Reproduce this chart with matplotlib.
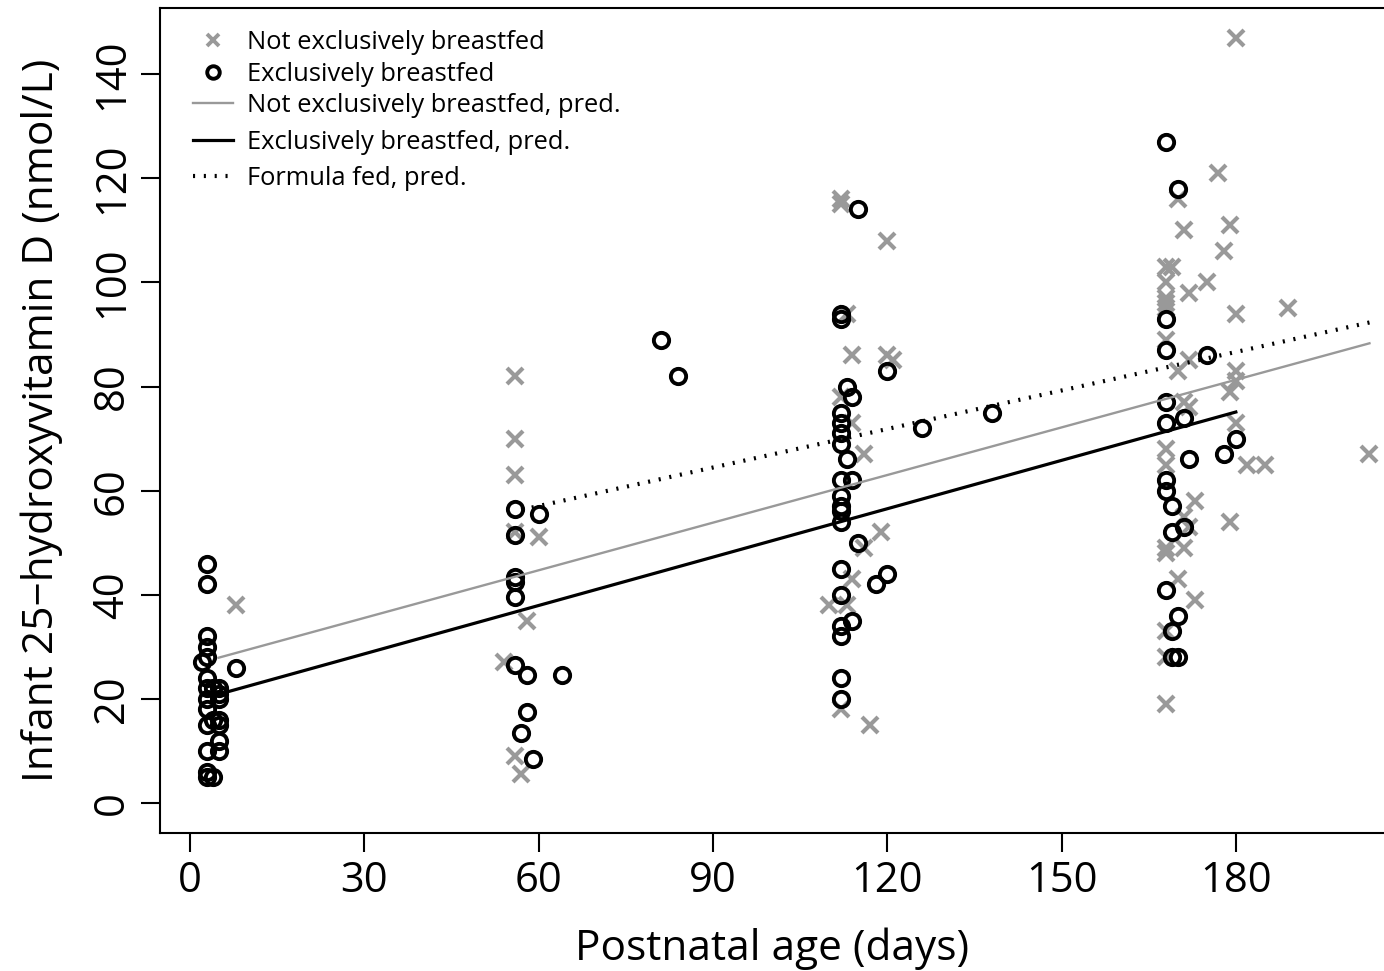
import numpy as np
import matplotlib
matplotlib.use("Agg")
import matplotlib.pyplot as plt
from matplotlib.lines import Line2D

plt.rcParams["font.family"] = ["Open Sans", "DejaVu Sans"]

# not exclusively breastfed (grey crosses): day, 25(OH)D
NEB_DAY = [8,
           56, 56, 56, 56, 60, 58, 54, 56, 57,
           112, 112, 120, 113, 114, 120, 121, 112, 114, 116, 119, 116, 114,
           113, 110, 112, 117,
           180, 177, 170, 171, 179, 178, 168, 169, 168, 175, 172, 168, 168,
           168, 180, 189, 168, 172, 170, 180, 180, 179, 171, 172, 180, 168,
           168, 182, 185, 203, 173, 179, 171, 172, 168, 168, 171, 170, 173,
           168, 168, 168]
NEB_VAL = [38,
           82, 70, 63, 52, 51, 35, 27, 9, 5.5,
           116, 115, 108, 94, 86, 86, 85, 78, 73, 67, 52, 49, 43,
           38, 38, 18, 15,
           147, 121, 116, 110, 111, 106, 103, 103, 100, 100, 98, 97, 96,
           95, 94, 95, 89, 85, 83, 83, 81, 79, 77, 76, 73, 68,
           65, 65, 65, 67, 58, 54, 55, 53, 49, 48, 49, 43, 39,
           33, 28, 19]

# exclusively breastfed (open circles)
EB_DAY = [3, 3, 3, 3, 2, 3, 8, 3, 3, 4, 5, 5, 3, 5, 3, 4, 5, 3, 5, 5, 3, 5, 3, 3, 4,
          56, 60, 56, 56, 56, 56, 56, 58, 64, 58, 57, 59, 81, 84,
          115, 112, 112, 120, 113, 114, 112, 112, 112, 112, 113, 126, 138,
          112, 114, 112, 112, 112, 112, 115, 112, 120, 118, 112, 114, 112,
          112, 112, 112,
          168, 170, 168, 168, 175, 168, 171, 168, 180, 178, 172, 168, 168,
          169, 171, 169, 168, 170, 169, 169, 170]
EB_VAL = [46, 42, 32, 30, 27, 28, 26, 24, 22, 22, 22, 21, 20, 20, 18, 16, 16, 15, 15,
          12, 10, 10, 6, 5, 5,
          56.5, 55.5, 51.5, 43.5, 42.5, 39.5, 26.5, 24.5, 24.5, 17.5, 13.5, 8.5, 89, 82,
          114, 94, 93, 83, 80, 78, 75, 73, 71, 69, 66, 72, 75,
          62, 62, 59, 57, 56, 54, 50, 45, 44, 42, 40, 35, 34,
          32, 24, 20,
          127, 118, 93, 87, 86, 77, 74, 73, 70, 67, 66, 62, 60,
          57, 53, 52, 41, 36, 33, 28, 28]

# model predictions
PRED_NEB_DAY = [4.9, 203]
PRED_NEB = [27.9, 88.3]
PRED_EB_DAY = [6.6, 180]
PRED_EB = [21.4, 75.1]
PRED_FF_DAY = [57, 203]
PRED_FF = [56.3, 92.3]

GREY = "#999999"
DOTTED = (0, (0.5, 2.1))

W, H = 1384, 971
fig = plt.figure(figsize=(W / 100, H / 100), dpi=100)
ax = fig.add_axes([160 / W, 138 / H, 1 - 160 / W, (833 - 8) / H])

ax.plot(NEB_DAY, NEB_VAL, ls="none", marker="x", ms=11, mew=3.0, color=GREY)
ax.plot(EB_DAY, EB_VAL, ls="none", marker="o", ms=11, mew=2.8,
        mfc="none", mec="black")
ax.plot(PRED_NEB_DAY, PRED_NEB, color=GREY, lw=1.7)
ax.plot(PRED_EB_DAY, PRED_EB, color="black", lw=2.3)
ax.plot(PRED_FF_DAY, PRED_FF, color="black", lw=3.0, ls=DOTTED,
        dash_capstyle="butt")

ax.set_xlim(-5.16, 205.5)
ax.set_ylim(-5.76, 152.7)
ax.set_xticks(np.arange(0, 181, 30))
ax.set_yticks(np.arange(0, 141, 20))
ax.tick_params(axis="both", labelsize=30, length=13.5, width=1.5, pad=6)
ax.tick_params(axis="y", labelrotation=90)
for lab in ax.get_yticklabels():
    lab.set_va("center")
ax.spines["right"].set_visible(False)
for s in ["left", "top", "bottom"]:
    ax.spines[s].set_linewidth(1.5)

ax.set_xlabel("Postnatal age (days)", fontsize=30.5, labelpad=18)
ax.set_ylabel("Infant 25\u2212hydroxyvitamin D (nmol/L)", fontsize=30.5, labelpad=20)

FS = 18.4
h1 = [Line2D([], [], ls="none", marker="x", ms=8.5, mew=2.8, color=GREY),
      Line2D([], [], ls="none", marker="o", ms=9, mew=2.8, mfc="none", mec="black")]
leg1 = ax.legend(h1, ["Not exclusively breastfed", "Exclusively breastfed"],
                 loc="upper left", bbox_to_anchor=(193 / W, 1 - 29.8 / H),
                 bbox_transform=fig.transFigure, frameon=False, fontsize=FS,
                 borderpad=0, borderaxespad=0, handlelength=1.56,
                 handletextpad=0.55, labelspacing=0.28)
ax.add_artist(leg1)
h2 = [Line2D([], [], color=GREY, lw=1.7),
      Line2D([], [], color="black", lw=2.3),
      Line2D([], [], color="black", lw=3.0, ls=DOTTED, dash_capstyle="butt")]
ax.legend(h2, ["Not exclusively breastfed, pred.", "Exclusively breastfed, pred.",
               "Formula fed, pred."],
          loc="upper left", bbox_to_anchor=(193 / W, 1 - 92.8 / H),
          bbox_transform=fig.transFigure, frameon=False, fontsize=FS,
          borderpad=0, borderaxespad=0, handlelength=1.56,
          handletextpad=0.55, labelspacing=0.46)

fig.savefig("out.png", dpi=100)
